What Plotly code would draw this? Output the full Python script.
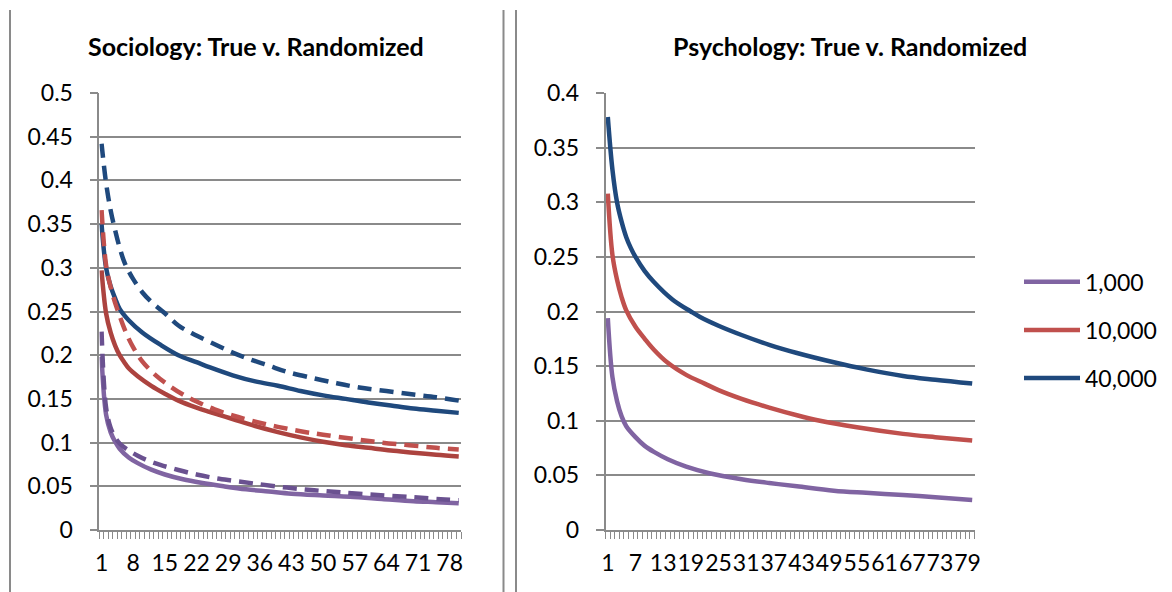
import plotly.graph_objects as go

# ---------------- data ----------------
N_CATEGORIES = 80
soc_ticks = [1, 8, 15, 22, 29, 36, 43, 50, 57, 64, 71, 78]
psy_ticks = [1, 7, 13, 19, 25, 31, 37, 43, 49, 55, 61, 67, 73, 79]

soc_yticks = [0, 0.05, 0.1, 0.15, 0.2, 0.25, 0.3, 0.35, 0.4, 0.45, 0.5]
soc_ytext = ["0", "0.05", "0.1", "0.15", "0.2", "0.25", "0.3", "0.35", "0.4", "0.45", "0.5"]
psy_yticks = [0, 0.05, 0.1, 0.15, 0.2, 0.25, 0.3, 0.35, 0.4]
psy_ytext = ["0", "0.05", "0.1", "0.15", "0.2", "0.25", "0.3", "0.35", "0.4"]

legend_names = ["1,000", "10,000", "40,000"]

# Sociology – true (solid)
soc_true_1000_x = [1, 2, 3, 4, 5, 7, 9, 12, 15, 19, 23, 28, 33, 38, 43, 50, 56, 63, 70, 75, 80]
soc_true_1000 = [0.198, 0.132, 0.112, 0.101, 0.093, 0.083, 0.0765, 0.069, 0.0635, 0.058, 0.054,
                 0.050, 0.0465, 0.044, 0.0415, 0.0395, 0.038, 0.0355, 0.033, 0.0318, 0.0305]
soc_true_10000_x = [1, 2, 3, 4, 5, 6, 7, 9, 12, 15, 18, 22, 25, 30, 35, 40, 45, 50, 55, 60, 65, 70, 75, 80]
soc_true_10000 = [0.297, 0.248, 0.226, 0.211, 0.200, 0.192, 0.185, 0.176, 0.165, 0.156, 0.148, 0.140,
                  0.135, 0.127, 0.119, 0.112, 0.106, 0.101, 0.097, 0.094, 0.091, 0.0885, 0.086, 0.084]
soc_true_40000_x = [1, 2, 3, 4, 5, 7, 10, 14, 18, 22, 25, 30, 35, 40, 45, 50, 55, 60, 65, 70, 75, 80]
soc_true_40000 = [0.350, 0.300, 0.279, 0.265, 0.253, 0.240, 0.226, 0.212, 0.200, 0.192, 0.186, 0.177,
                  0.170, 0.165, 0.159, 0.154, 0.150, 0.146, 0.1425, 0.139, 0.1365, 0.134]

# Sociology – randomized (dashed)
soc_rand_1000_x = [1, 2, 3, 4, 5, 7, 9, 11, 14, 18, 22, 26, 30, 35, 42, 48, 54, 62, 70, 76, 80]
soc_rand_1000 = [0.227, 0.140, 0.117, 0.106, 0.099, 0.091, 0.085, 0.080, 0.0745, 0.0686, 0.0635,
                 0.0595, 0.0565, 0.053, 0.0485, 0.0455, 0.043, 0.040, 0.0375, 0.0352, 0.034]
soc_rand_10000_x = [1, 2, 3, 4, 5, 6, 7, 8, 10, 13, 16, 19, 22, 26, 30, 35, 40, 45, 50, 57, 63, 69, 75, 80]
soc_rand_10000 = [0.366, 0.303, 0.278, 0.260, 0.245, 0.231, 0.219, 0.209, 0.193, 0.177, 0.165, 0.155,
                  0.147, 0.138, 0.131, 0.124, 0.118, 0.113, 0.109, 0.104, 0.100, 0.097, 0.094, 0.092]
soc_rand_40000_x = [1, 2, 3, 4, 5, 6, 7, 8, 10, 12, 15, 18, 21, 25, 30, 34, 38, 42, 48, 53, 58, 64, 70, 75, 80]
soc_rand_40000 = [0.442, 0.397, 0.366, 0.343, 0.323, 0.307, 0.296, 0.287, 0.272, 0.261, 0.248, 0.234,
                  0.225, 0.215, 0.203, 0.195, 0.188, 0.181, 0.1735, 0.168, 0.163, 0.159, 0.155, 0.152, 0.148]

# Psychology (solid)
psy_1000_x = [1, 2, 3, 4, 5, 7, 9, 11, 14, 18, 23, 30, 36, 42, 50, 57, 65, 72, 80]
psy_1000 = [0.194, 0.140, 0.118, 0.104, 0.095, 0.085, 0.077, 0.0715, 0.0648, 0.058, 0.052, 0.0465,
            0.043, 0.040, 0.036, 0.034, 0.032, 0.030, 0.0275]
psy_10000_x = [1, 2, 3, 4, 5, 7, 9, 11, 14, 18, 22, 25, 30, 36, 42, 47, 55, 65, 72, 80]
psy_10000 = [0.308, 0.252, 0.229, 0.213, 0.201, 0.186, 0.175, 0.165, 0.153, 0.142, 0.134, 0.128,
             0.120, 0.112, 0.105, 0.100, 0.094, 0.088, 0.085, 0.082]
psy_40000_x = [1, 2, 3, 4, 5, 6, 7, 9, 11, 15, 19, 21, 25, 30, 36, 42, 50, 57, 65, 72, 80]
psy_40000 = [0.378, 0.330, 0.300, 0.282, 0.268, 0.258, 0.250, 0.237, 0.227, 0.211, 0.200, 0.195,
             0.187, 0.1785, 0.1695, 0.162, 0.1535, 0.147, 0.141, 0.1375, 0.134]

# ---------------- styles ----------------
W, H = 1172, 592
FONT = "Lato"
GRID = "#8a8a8a"
PURPLE, PURPLE_D = "#8064A2", "#6A5190"
RED, RED_D = "#C0504D", "#AC433F"
BLUE = "#1F497D"
LW = 4.5
DASH = "14px,8px"


def px(x):
    return x / W


def py(y):
    return 1 - y / H


fig = go.Figure()

soc_series = [
    (soc_true_1000_x, soc_true_1000, PURPLE, "solid", "1,000 true"),
    (soc_true_10000_x, soc_true_10000, RED_D, "solid", "10,000 true"),
    (soc_true_40000_x, soc_true_40000, BLUE, "solid", "40,000 true"),
    (soc_rand_1000_x, soc_rand_1000, PURPLE_D, DASH, "1,000 randomized"),
    (soc_rand_10000_x, soc_rand_10000, RED, DASH, "10,000 randomized"),
    (soc_rand_40000_x, soc_rand_40000, BLUE, DASH, "40,000 randomized"),
]
for xs, ys, col, dash, name in soc_series:
    fig.add_trace(go.Scatter(x=xs, y=ys, mode="lines", name=name, showlegend=False,
                             line=dict(color=col, width=LW, dash=dash, shape="spline", smoothing=1),
                             xaxis="x", yaxis="y"))

psy_series = [
    (psy_1000_x, psy_1000, PURPLE, legend_names[0]),
    (psy_10000_x, psy_10000, RED, legend_names[1]),
    (psy_40000_x, psy_40000, BLUE, legend_names[2]),
]
for xs, ys, col, name in psy_series:
    fig.add_trace(go.Scatter(x=xs, y=ys, mode="lines", name=name, showlegend=False,
                             line=dict(color=col, width=LW, shape="spline", smoothing=1),
                             xaxis="x2", yaxis="y2"))

tickfont = dict(family=FONT, size=23, color="#000000")
ydom = [py(530), py(93)]


def xaxis_cfg(domain, ticks, anchor):
    return dict(domain=domain, anchor=anchor, range=[0.5, N_CATEGORIES + 0.5], tickmode="array",
                tickvals=ticks, ticktext=[str(t) for t in ticks], ticks="", tickangle=0,
                automargin=False,
                showgrid=False, zeroline=False, showline=True, linecolor=GRID, linewidth=1.5,
                tickfont=tickfont, ticklabelstandoff=12,
                minor=dict(tickmode="linear", tick0=0.5, dtick=1, ticks="outside",
                           ticklen=7, tickwidth=1, tickcolor=GRID, showgrid=False))


def yaxis_cfg(anchor, rng, tv, tt):
    return dict(domain=ydom, anchor=anchor, range=rng, tickmode="array", tickvals=tv, ticktext=tt,
                automargin=False,
                showgrid=True, gridcolor=GRID, gridwidth=1.5, zeroline=False,
                showline=True, linecolor=GRID, linewidth=1.5,
                ticks="outside", ticklen=8, tickwidth=1.5, tickcolor=GRID,
                tickfont=tickfont, ticklabelstandoff=12)


shapes = []
for xb in [10, 503.5, 516]:
    shapes.append(dict(type="line", xref="paper", yref="paper", x0=px(xb), x1=px(xb),
                       y0=py(10), y1=py(592), line=dict(color=GRID, width=2)))

annotations = [
    dict(text="<b>Sociology: True v. Randomized</b>", x=px(256), y=py(45.5), xref="paper", yref="paper",
         xanchor="center", yanchor="middle", showarrow=False,
         font=dict(family=FONT, size=25, color="#000000")),
    dict(text="<b>Psychology: True v. Randomized</b>", x=px(850), y=py(46.5), xref="paper", yref="paper",
         xanchor="center", yanchor="middle", showarrow=False,
         font=dict(family=FONT, size=25, color="#000000")),
]

# legend (right panel)
leg_y = [281.7, 330, 378]
for (xs, ys, col, name), ly in zip(psy_series, leg_y):
    shapes.append(dict(type="line", xref="paper", yref="paper", x0=px(1024), x1=px(1080),
                       y0=py(ly), y1=py(ly), line=dict(color=col, width=LW)))
    annotations.append(dict(text=name, x=px(1083), y=py(ly), xref="paper", yref="paper",
                            xanchor="left", yanchor="middle", showarrow=False, font=tickfont))

fig.update_layout(
    width=W, height=H, margin=dict(l=0, r=0, t=0, b=0, pad=0, autoexpand=False),
    paper_bgcolor="white", plot_bgcolor="white", showlegend=False,
    xaxis=xaxis_cfg([px(99.3), px(461)], soc_ticks, "y"),
    yaxis=yaxis_cfg("x", [0, 0.5], soc_yticks, soc_ytext),
    xaxis2=xaxis_cfg([px(605.5), px(974.5)], psy_ticks, "y2"),
    yaxis2=yaxis_cfg("x2", [0, 0.4], psy_yticks, psy_ytext),
    shapes=shapes, annotations=annotations,
)

fig.write_html("out.html", config={"displayModeBar": False},
               post_script="document.body.style.margin='0px';document.body.style.overflow='hidden';")
